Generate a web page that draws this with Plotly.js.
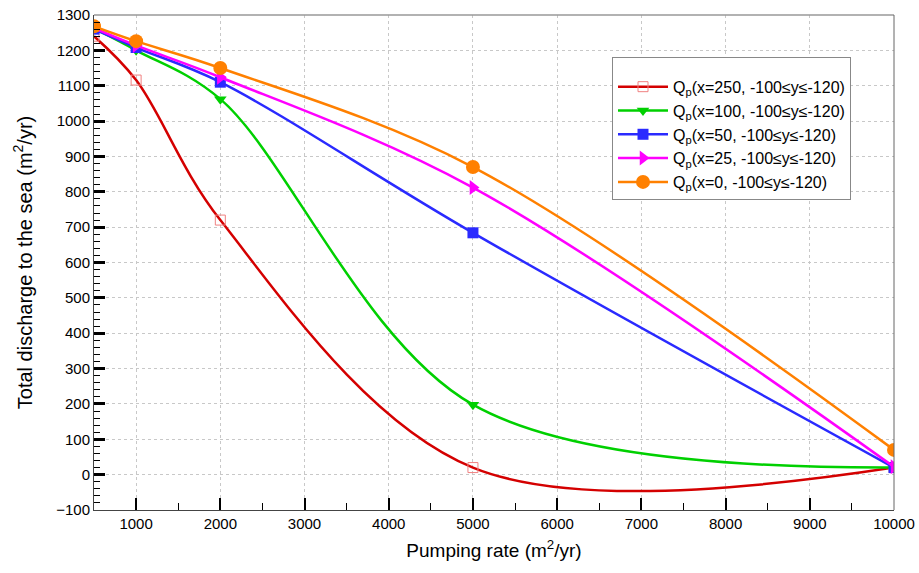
<!DOCTYPE html>
<html><head><meta charset="utf-8">
<script src="https://cdn.plot.ly/plotly-3.0.1.min.js"></script>
<style>html,body{margin:0;padding:0;background:#fff}#c{width:919px;height:573px}</style>
</head><body><div id="c"></div>
<script>
const pumping = [500, 1000, 2000, 5000, 10000];
const q250 = [1240, 1116, 720, 20, 20];
const q100 = [1262, 1200, 1062, 198, 20];
const q50  = [1260, 1208, 1110, 684, 20];
const q25  = [1263, 1214, 1124, 812, 22];
const q0   = [1268, 1226, 1150, 870, 70];
const xTickVals = [1000,2000,3000,4000,5000,6000,7000,8000,9000,10000];
const xTickText = ['1000','2000','3000','4000','5000','6000','7000','8000','9000','10000'];
const xMinorVals = [1500,2500,3500,4500,5500,6500,7500,8500,9500];
const names = [
  'Q<sub>p</sub>(x=250, -100≤y≤-120)',
  'Q<sub>p</sub>(x=100, -100≤y≤-120)',
  'Q<sub>p</sub>(x=50, -100≤y≤-120)',
  'Q<sub>p</sub>(x=25, -100≤y≤-120)',
  'Q<sub>p</sub>(x=0, -100≤y≤-120)'
];
const colors = ['#d40000', '#00d000', '#2a2aff', '#ff00ff', '#ff8000'];
const series = [q250, q100, q50, q25, q0];
const markers = [
  {symbol:'square-open', size:10, color:'#f08080', line:{width:1, color:'#f08080'}},
  {symbol:'triangle-down', size:11, color:'#00d000'},
  {symbol:'square', size:11, color:'#2a2aff'},
  {symbol:'triangle-right', size:13, color:'#ff00ff'},
  {symbol:'circle', size:14, color:'#ff8000'}
];
const traces = series.map((s,i)=>({
  x: pumping, y: s, name: names[i], type:'scatter', mode:'lines+markers',
  line:{color:colors[i], width:2.5, shape:'spline', smoothing:1},
  marker: markers[i]
}));
const F = '"Liberation Sans Narrow", "Liberation Sans", Arial, sans-serif';
const layout = {
  width:919, height:573,
  margin:{l:94, r:25, t:15, b:63},
  paper_bgcolor:'#fff', plot_bgcolor:'#fff',
  font:{family:F, size:15, color:'#000'},
  showlegend:true,
  legend:{x:0.6475, y:0.915, xanchor:'left', yanchor:'top', bgcolor:'#fff',
    bordercolor:'#888', borderwidth:1, font:{family:F, size:16}, tracegroupgap:0,
    itemwidth:50, title:{text:' ', font:{size:9}}},
  xaxis:{range:[500,10000], tickmode:'array', tickvals:xTickVals, ticktext:xTickText,
    ticks:'inside', ticklen:12, tickwidth:2, tickcolor:'#000',
    minor:{tickmode:'array', tickvals:xMinorVals, ticks:'inside', ticklen:7, tickwidth:1, tickcolor:'#000', showgrid:false},
    showgrid:true, gridcolor:'#c8c8c8', griddash:'dot', gridwidth:1,
    showline:true, linecolor:'#444', linewidth:1, mirror:false, zeroline:false,
    title:{text:'Pumping rate (m<sup>2</sup>/yr)', font:{family:F, size:19}, standoff:12}},
  yaxis:{range:[-100,1300], tickmode:'linear', dtick:100, tick0:0,
    ticks:'inside', ticklen:11, tickwidth:3, tickcolor:'#000',
    minor:{dtick:20, ticks:'inside', ticklen:6, tickwidth:1, tickcolor:'#000', showgrid:false},
    showgrid:true, gridcolor:'#c8c8c8', griddash:'dot', gridwidth:1,
    showline:true, linecolor:'#444', linewidth:1, zeroline:false,
    title:{text:'Total discharge to the sea (m<sup>2</sup>/yr)', font:{family:'"Liberation Sans", Arial, sans-serif', size:20}, standoff:18}},
  shapes:[
    {type:'line', xref:'paper', yref:'paper', x0:0, x1:1, y0:1, y1:1, line:{color:'#999', width:1.5}},
    {type:'line', xref:'paper', yref:'paper', x0:1, x1:1, y0:0, y1:1, line:{color:'#666', width:1}}
  ]
};
Plotly.newPlot('c', traces, layout, {displayModeBar:false});
</script></body></html>
